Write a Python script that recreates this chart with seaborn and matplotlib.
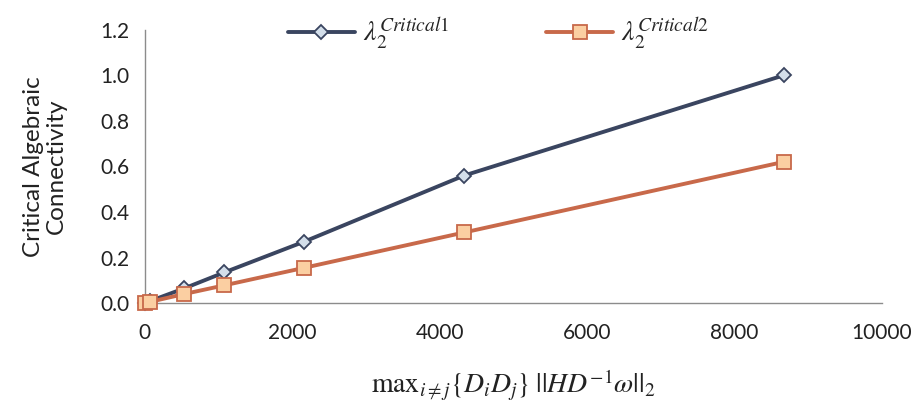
import matplotlib
matplotlib.use("Agg")
import matplotlib.pyplot as plt
import seaborn as sns
import pandas as pd

x_vals = [0, 68, 541, 1083, 2166, 4332, 8664]
crit1 = [0.0, 0.008, 0.065, 0.135, 0.27, 0.56, 1.0]
crit2 = [0.0, 0.005, 0.04, 0.078, 0.155, 0.31, 0.62]
labels = [r"$\lambda_2^{Critical1}$", r"$\lambda_2^{Critical2}$"]

sns.set_theme(style="white")
plt.rcParams["font.family"] = ["Lato", "DejaVu Sans"]
plt.rcParams["mathtext.fontset"] = "stix"

fig = plt.figure(figsize=(9.15, 4.09), dpi=100)
ax = fig.add_axes([0.158, 0.259, 0.806, 0.668])

df1 = pd.DataFrame({"x": x_vals, "y": crit1})
df2 = pd.DataFrame({"x": x_vals, "y": crit2})

sns.lineplot(data=df1, x="x", y="y", ax=ax, color="#3a4560", linewidth=2.8,
             marker="D", markersize=7, markerfacecolor="#d3deea",
             markeredgecolor="#3a4560", markeredgewidth=1.3, label=labels[0],
             clip_on=False, zorder=3)
sns.lineplot(data=df2, x="x", y="y", ax=ax, color="#c8694a", linewidth=2.8,
             marker="s", markersize=10, markerfacecolor="#fbcfa2",
             markeredgecolor="#c8694a", markeredgewidth=1.3, label=labels[1],
             clip_on=False, zorder=3)

ax.set_xlim(0, 10000)
ax.set_ylim(0, 1.2)
ax.set_xticks([0, 2000, 4000, 6000, 8000, 10000])
ax.set_yticks([0.0, 0.2, 0.4, 0.6, 0.8, 1.0, 1.2])
ax.set_yticklabels([f"{v:.1f}" for v in [0.0, 0.2, 0.4, 0.6, 0.8, 1.0, 1.2]])

for side in ["top", "right"]:
    ax.spines[side].set_visible(False)
for side in ["left", "bottom"]:
    ax.spines[side].set_color("#8c8c8c")
    ax.spines[side].set_linewidth(1.0)
ax.tick_params(axis="both", which="major", direction="out", length=6, width=1,
               color="#8c8c8c", labelsize=15, labelcolor="#222222", pad=5)
ax.tick_params(axis="x", pad=8)

ax.set_ylabel("Critical Algebraic\nConnectivity", fontsize=17.5, color="#222222",
              labelpad=24, linespacing=1.1)
ax.set_xlabel(r"$\mathrm{max}_{i\neq j}\{D_iD_j\}\;||HD^{-1}\omega||_2$",
              fontsize=20, color="#222222", labelpad=18)

leg = ax.legend(loc="center", bbox_to_anchor=(0.48, 0.985), ncol=2, frameon=False,
                fontsize=20, handlelength=2.4, columnspacing=3.5, handletextpad=0.3)

fig.savefig("out.png", dpi=100)
